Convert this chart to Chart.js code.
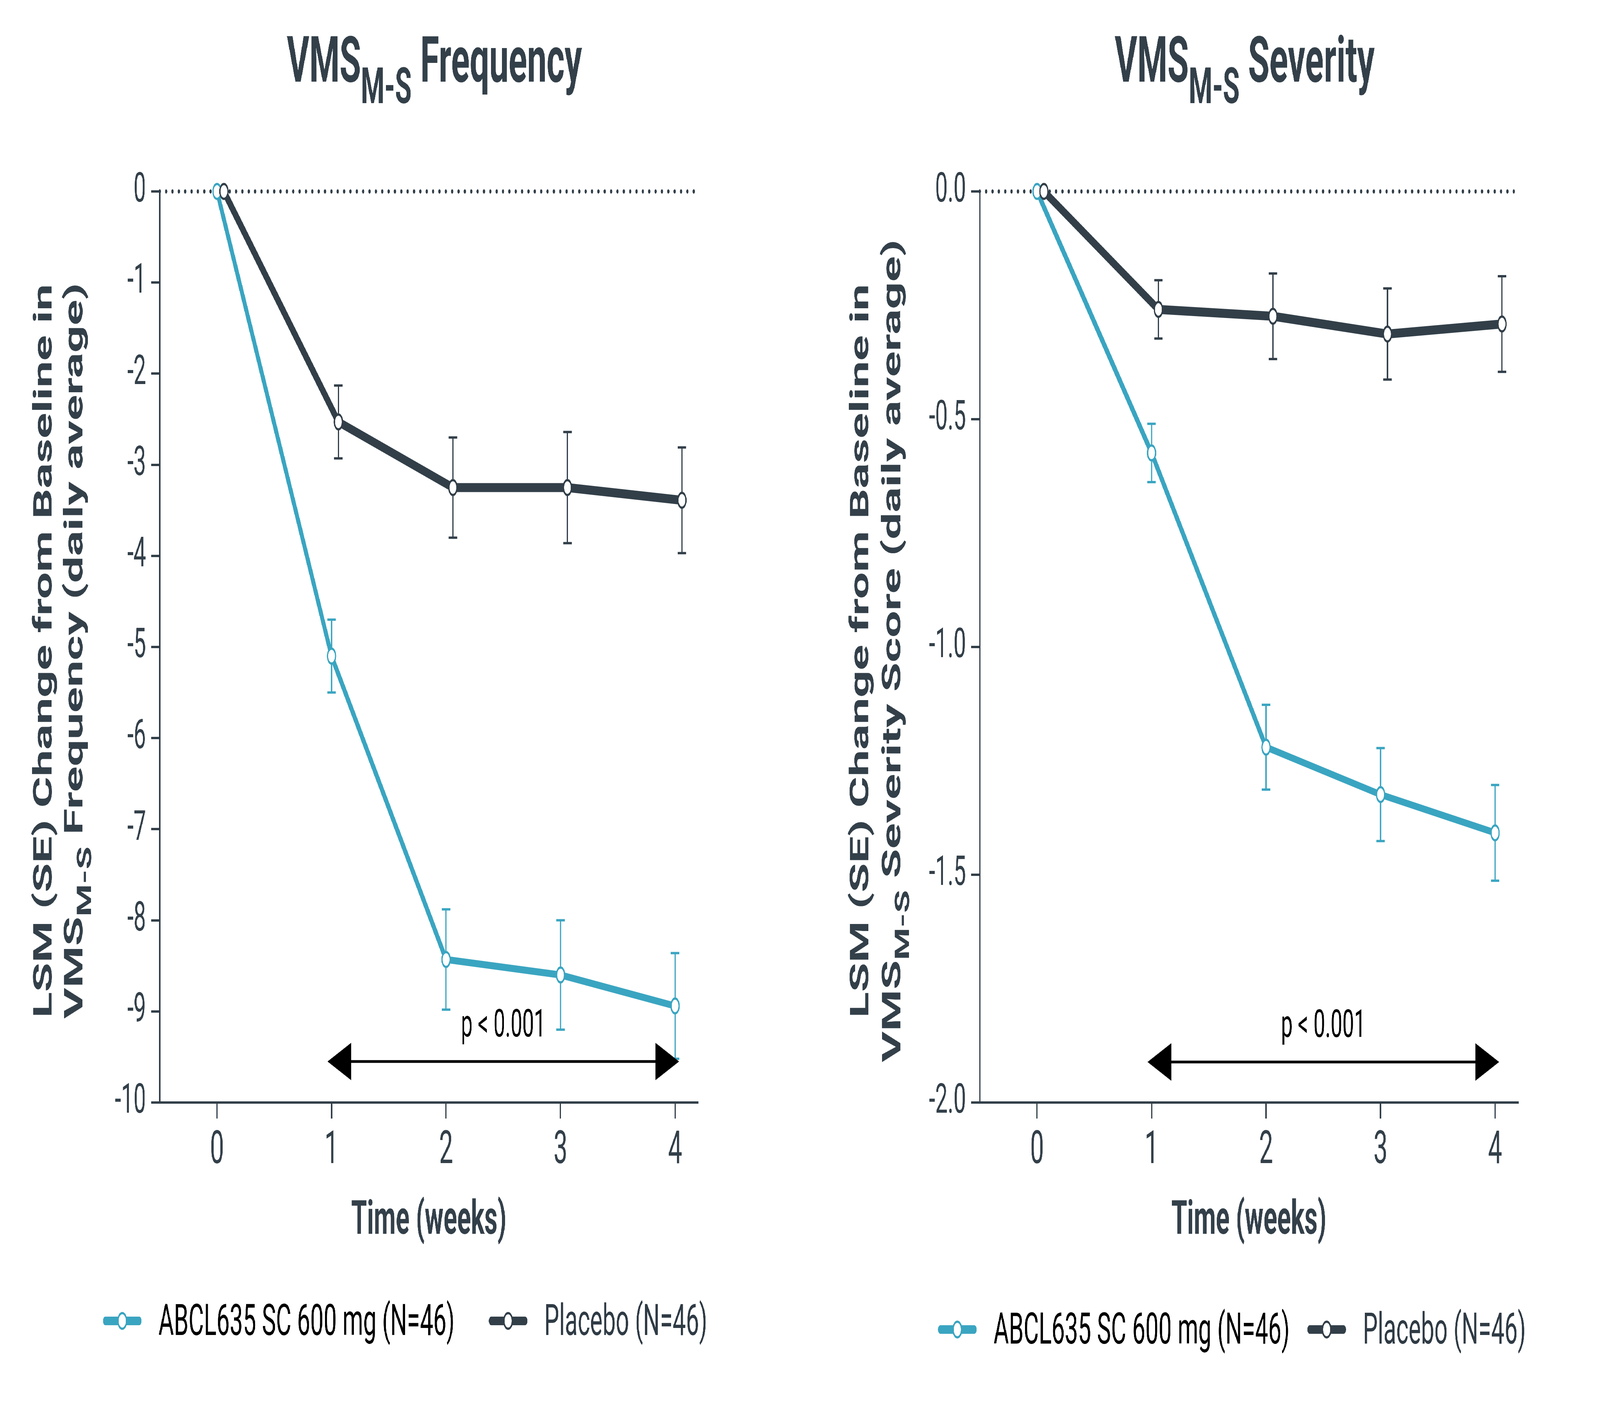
<!DOCTYPE html>
<html>
<head>
<meta charset="utf-8">
<script src="https://cdn.jsdelivr.net/npm/chart.js@4.4.1/dist/chart.umd.min.js"></script>
<style>
  html, body { margin: 0; padding: 0; background: #fff; overflow: hidden; }
  #wrap { position: relative; width: 7551px; height: 3609px; transform-origin: 0 0; }
  .box { position: absolute; top: 0; height: 3609px; }
  #boxFreq { left: 0; width: 3870px; }
  #boxSev { left: 3870px; width: 3681px; }
</style>
</head>
<body>
<div id="wrap">
  <div class="box" id="boxFreq"><canvas id="freq" width="3870" height="3609"></canvas></div>
  <div class="box" id="boxSev"><canvas id="sev" width="3681" height="3609"></canvas></div>
</div>
<script>
// data
const weeks = [0, 1, 2, 3, 4];
const seriesLabels = ['ABCL635 SC 600 mg (N=46)', 'Placebo (N=46)'];

const freqActive    = [0, -5.10, -8.43, -8.60, -8.94];
const freqActiveSE  = [null, 0.40, 0.55, 0.60, 0.58];
const freqPlacebo   = [0, -2.53, -3.25, -3.25, -3.39];
const freqPlaceboSE = [null, 0.40, 0.55, 0.61, 0.58];

const sevActive     = [0, -0.574, -1.220, -1.324, -1.408];
const sevActiveSE   = [null, 0.064, 0.093, 0.102, 0.105];
const sevPlacebo    = [0, -0.259, -0.274, -0.313, -0.291];
const sevPlaceboSE  = [null, 0.064, 0.094, 0.100, 0.105];

const freqTicks = [0, -1, -2, -3, -4, -5, -6, -7, -8, -9, -10];
const sevTicks  = [0, -0.5, -1.0, -1.5, -2.0];

const placeboShift = 0.06; // placebo points sit slightly right of the week tick
const pLabel = 'p < 0.001';

const TEAL = '#3aa5c1';
const SLATE = '#323f49';
const TEXT = '#33404a';

// the figure is laid out at 7551x3609; squeeze it into the real window if smaller
const FIG_W = 7551, FIG_H = 3609;
const sx = Math.min(1, window.innerWidth / FIG_W);
const sy = Math.min(1, window.innerHeight / FIG_H);
document.getElementById('wrap').style.transform = `scale(${sx}, ${sy})`;

Chart.defaults.font.family = 'Roboto';

function rich(ctx, segs, size, weight, x, y) {
  const subSize = size * 0.78, subDy = size * 0.34;
  const fontOf = s => `${weight} ${s.sub ? subSize : size}px Roboto`;
  let total = 0;
  const widths = segs.map(s => {
    ctx.font = fontOf(s);
    const w = ctx.measureText(s.t).width;
    total += w;
    return w;
  });
  let cx = x - total / 2;
  ctx.textAlign = 'left';
  ctx.textBaseline = 'alphabetic';
  segs.forEach((s, i) => {
    ctx.font = fontOf(s);
    ctx.fillText(s.t, cx, y + (s.sub ? subDy : 0));
    cx += widths[i];
  });
}

function makeDecor(cfg) {
  return {
    id: 'decor',
    beforeDatasetsDraw(chart) {
      const { ctx, chartArea: a, scales: { x, y } } = chart;
      ctx.save();
      // dotted zero line
      const y0 = y.getPixelForValue(0);
      ctx.fillStyle = SLATE;
      for (let px = a.left; px <= a.right - 5; px += 30) {
        ctx.beginPath();
        ctx.arc(px, y0, 5.5, 0, Math.PI * 2);
        ctx.fill();
      }
      // error bars
      chart.data.datasets.forEach((ds, i) => {
        const se = cfg.errors[i];
        ctx.strokeStyle = ds.borderColor;
        ctx.lineWidth = 6;
        ds.data.forEach((p, j) => {
          if (!se[j]) return;
          const px = x.getPixelForValue(p.x);
          const top = y.getPixelForValue(p.y + se[j]);
          const bot = y.getPixelForValue(p.y - se[j]);
          ctx.beginPath();
          ctx.moveTo(px, top); ctx.lineTo(px, bot);
          ctx.moveTo(px - 20, top); ctx.lineTo(px + 20, top);
          ctx.moveTo(px - 20, bot); ctx.lineTo(px + 20, bot);
          ctx.stroke();
        });
      });
      ctx.restore();
    },
    afterDraw(chart) {
      const { ctx, chartArea: a, scales: { x, y } } = chart;
      ctx.save();
      ctx.fillStyle = TEXT;

      // main title
      rich(ctx, cfg.title, 163, 'bold', (a.left + a.right) / 2 + cfg.titleDx, 209);

      // y axis title, two rotated lines
      const cy = (a.top + a.bottom) / 2 + 10;
      cfg.yTitle.forEach((line, i) => {
        ctx.save();
        ctx.translate(a.left + cfg.yTitleX[i], cy);
        ctx.rotate(-Math.PI / 2);
        rich(ctx, line, 122, 'bold', 0, 0);
        ctx.restore();
      });

      // significance arrow
      const ay = y.getPixelForValue(cfg.arrow.y);
      const xl = x.getPixelForValue(cfg.arrow.from) - 19;
      const xr = x.getPixelForValue(cfg.arrow.to) + 19;
      ctx.fillStyle = '#000';
      ctx.strokeStyle = '#000';
      ctx.lineWidth = 7;
      ctx.beginPath();
      ctx.moveTo(xl + 100, ay); ctx.lineTo(xr - 100, ay);
      ctx.stroke();
      [[xl, -1], [xr, 1]].forEach(([tip, dir]) => {
        ctx.beginPath();
        ctx.moveTo(tip, ay);
        ctx.lineTo(tip - dir * 112, ay - 48);
        ctx.lineTo(tip - dir * 112, ay + 48);
        ctx.closePath();
        ctx.fill();
      });
      ctx.font = '98px Roboto';
      ctx.textAlign = 'center';
      ctx.textBaseline = 'alphabetic';
      ctx.fillText(pLabel, (x.getPixelForValue(cfg.arrow.from) + x.getPixelForValue(cfg.arrow.to)) / 2, ay - 64);

      // legend
      const ly = cfg.legend.y;
      chart.data.datasets.forEach((ds, i) => {
        const x0 = a.left + cfg.legend.x[i];
        ctx.strokeStyle = ds.borderColor;
        ctx.lineCap = 'round';
        ctx.lineWidth = 22;
        ctx.beginPath();
        ctx.moveTo(x0 + 11, ly); ctx.lineTo(x0 + 171, ly);
        ctx.stroke();
        ctx.lineCap = 'butt';
        ctx.lineWidth = 6;
        ctx.fillStyle = '#fff';
        ctx.beginPath();
        ctx.arc(x0 + 91, ly, 20, 0, Math.PI * 2);
        ctx.fill();
        ctx.stroke();
        ctx.fillStyle = i === 0 ? '#000' : '#2f3b45';
        ctx.font = '111px Roboto';
        ctx.textAlign = 'left';
        ctx.fillText(ds.label, x0 + 262, ly + 36);
      });
      ctx.restore();
    }
  };
}

function lineSet(label, ys, color, width, shift, order) {
  return {
    label,
    data: weeks.map((w, i) => ({ x: w + shift, y: ys[i] })),
    borderColor: color,
    borderWidth: width,
    pointRadius: 19,
    pointHoverRadius: 19,
    pointBorderWidth: 6,
    pointBackgroundColor: '#fff',
    pointBorderColor: color,
    tension: 0,
    clip: false,
    order
  };
}

function buildChart(id, cfg) {
  const tickVals = cfg.ticks;
  return new Chart(document.getElementById(id), {
    type: 'line',
    data: {
      datasets: [
        lineSet(seriesLabels[0], cfg.active, TEAL, 18, 0, 1),
        lineSet(seriesLabels[1], cfg.placebo, SLATE, 23, placeboShift, 0)
      ]
    },
    options: {
      responsive: false,
      devicePixelRatio: 1,
      animation: false,
      layout: { padding: { left: 0, right: cfg.padRight, top: 490, bottom: 0 } },
      plugins: { legend: { display: false }, tooltip: { enabled: false } },
      scales: {
        x: {
          type: 'linear',
          min: -0.5,
          max: 4.2,
          afterBuildTicks: s => { s.ticks = weeks.map(v => ({ value: v })); },
          afterFit: s => { s.height = 787; },
          grid: { drawOnChartArea: false, drawTicks: true, tickLength: 41, lineWidth: 6, color: SLATE },
          border: { display: true, width: 6, color: SLATE },
          ticks: { padding: 15, maxRotation: 0, autoSkip: false, color: TEXT, font: { size: 117 }, callback: v => String(v) },
          title: {
            display: true,
            text: 'Time (weeks)',
            color: TEXT,
            font: { size: 120, weight: 'bold' },
            padding: { top: 0, bottom: 409 }
          }
        },
        y: {
          min: tickVals[tickVals.length - 1],
          max: tickVals[0],
          afterBuildTicks: s => { s.ticks = tickVals.map(v => ({ value: v })); },
          afterFit: s => { s.width = 754; },
          grid: { drawOnChartArea: false, drawTicks: true, tickLength: 41, lineWidth: 6, color: SLATE },
          border: { display: true, width: 6, color: SLATE },
          ticks: { padding: 24, color: TEXT, font: { size: 105 }, callback: cfg.fmt }
        }
      }
    },
    plugins: [makeDecor(cfg)]
  });
}

buildChart('freq', {
  active: freqActive,
  placebo: freqPlacebo,
  errors: [freqActiveSE, freqPlaceboSE],
  ticks: freqTicks,
  fmt: v => String(v),
  padRight: 576,
  title: [{ t: 'VMS' }, { t: 'M-S', sub: true }, { t: ' Frequency' }],
  titleDx: 26,
  yTitle: [
    [{ t: 'LSM (SE) Change from Baseline in' }],
    [{ t: 'VMS' }, { t: 'M-S', sub: true }, { t: ' Frequency (daily average)' }]
  ],
  yTitleX: [-510, -365],
  arrow: { from: 1, to: 4, y: -9.55 },
  legend: { y: 3381, x: [-268, 1553] }
});

buildChart('sev', {
  active: sevActive,
  placebo: sevPlacebo,
  errors: [sevActiveSE, sevPlaceboSE],
  ticks: sevTicks,
  fmt: v => v.toFixed(1),
  padRight: 387,
  title: [{ t: 'VMS' }, { t: 'M-S', sub: true }, { t: ' Severity' }],
  titleDx: -20,
  yTitle: [
    [{ t: 'LSM (SE) Change from Baseline in' }],
    [{ t: 'VMS' }, { t: 'M-S', sub: true }, { t: ' Severity Score (daily average)' }]
  ],
  yTitleX: [-526, -375],
  arrow: { from: 1, to: 4, y: -1.911 },
  legend: { y: 3403, x: [-197, 1546] }
});
</script>
</body>
</html>
